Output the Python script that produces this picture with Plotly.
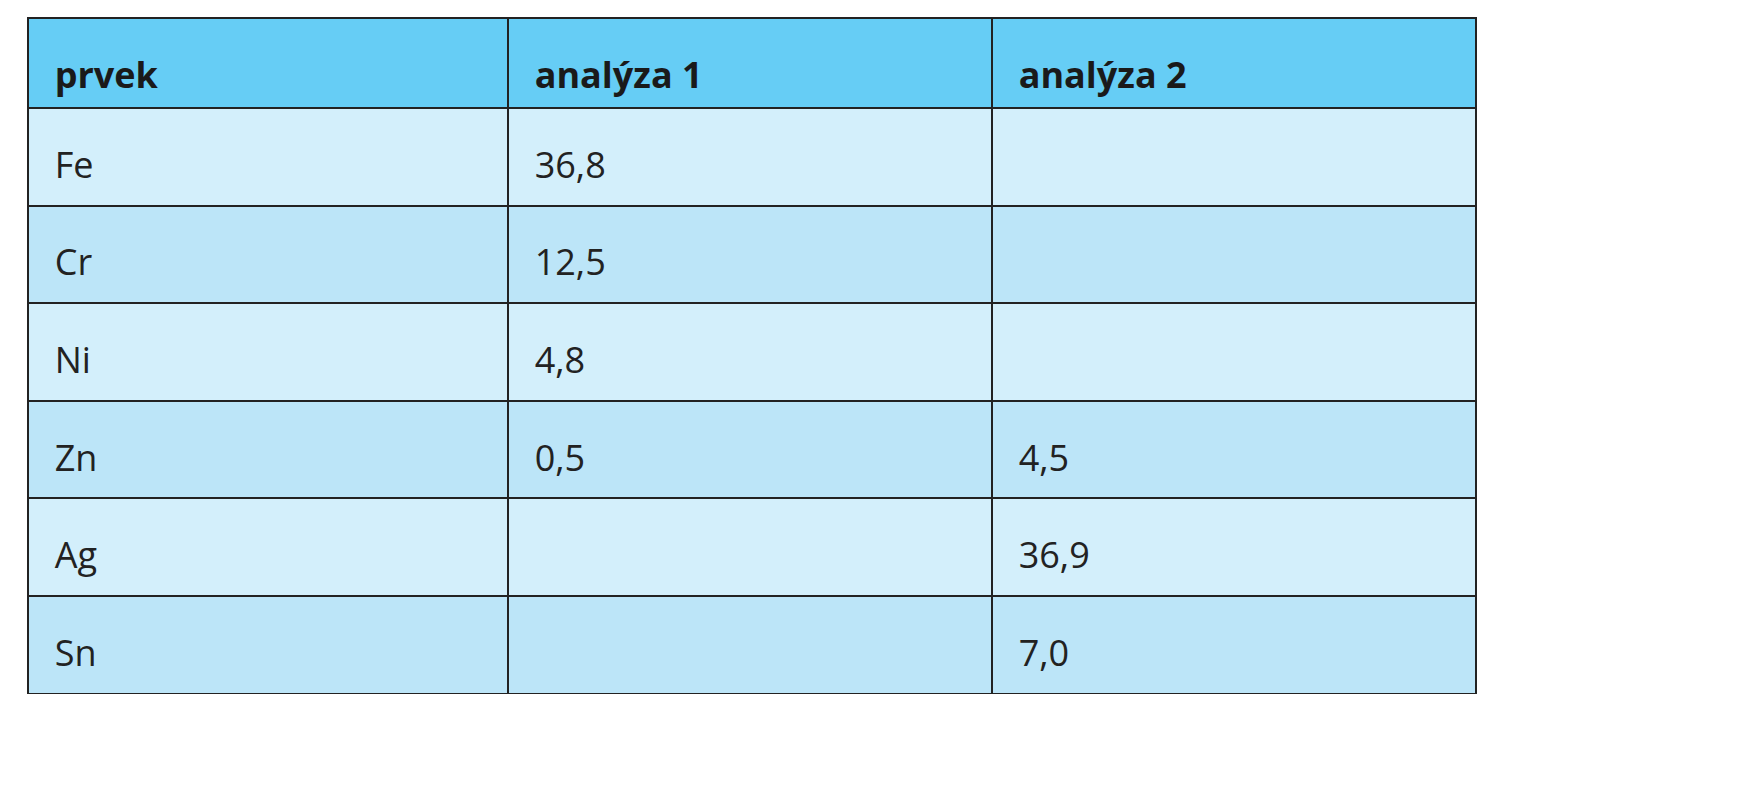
import plotly.graph_objects as go

headers = ["prvek", "analýza 1", "analýza 2"]
prvek = ["Fe", "Cr", "Ni", "Zn", "Ag", "Sn"]
analyza1 = ["36,8", "12,5", "4,8", "0,5", "", ""]
analyza2 = ["", "", "", "4,5", "36,9", "7,0"]

row_colors = ["#D3EFFB" if i % 2 == 0 else "#BCE5F8" for i in range(len(prvek))]

def fmt(v, bold=False):
    if v == "":
        return ""
    t = f"<b>{v}</b>" if bold else v
    return "<span style='font-size:14px'> </span><br>&nbsp;&nbsp;" + t

fig = go.Figure(go.Table(
    domain=dict(x=[20/1744, 1468/1744], y=[1-686/800, 1-10/800]),
    columnwidth=[480, 484, 484],
    header=dict(values=[fmt(h, True) for h in headers],
                fill_color="#66CDF5", line=dict(color="#222222", width=2),
                align="left", height=90,
                font=dict(family="Open Sans", size=36, color="#1a1a1a")),
    cells=dict(values=[[fmt(v) for v in col] for col in (prvek, analyza1, analyza2)],
               fill_color=[row_colors]*3, line=dict(color="#222222", width=2),
               align="left", height=97.6,
               font=dict(family="Open Sans", size=36, color="#222222")),
))
fig.update_layout(width=1744, height=800, margin=dict(l=0, r=0, t=0, b=0),
                  paper_bgcolor="white")
fig.write_html("out.html")
